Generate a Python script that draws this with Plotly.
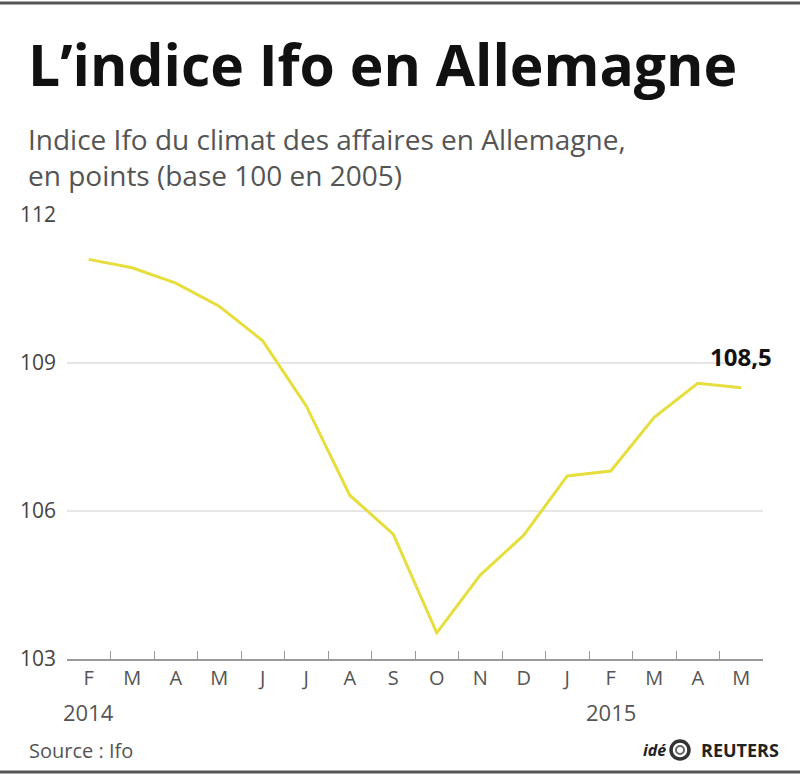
import plotly.graph_objects as go

months = ["2014-02", "2014-03", "2014-04", "2014-05", "2014-06", "2014-07", "2014-08",
          "2014-09", "2014-10", "2014-11", "2014-12", "2015-01", "2015-02", "2015-03",
          "2015-04", "2015-05"]
month_labels = ["F", "M", "A", "M", "J", "J", "A", "S", "O", "N", "D", "J", "F", "M", "A", "M"]
values = [111.1, 110.93, 110.62, 110.15, 109.45, 108.13, 106.32, 105.53, 103.53,
          104.7, 105.51, 106.71, 106.81, 107.9, 108.59, 108.5]
year_labels = {"2014-02": "2014", "2015-02": "2015"}
y_ticks = [103, 106, 109, 112]

W, H = 800, 776
ML, MR, MT, MB = 67, 37, 215, 117
PH = H - MT - MB
PW = W - ML - MR

def py(pix):  # pixel y -> paper y
    return (H - MB - pix) / PH

def px(pix):  # pixel x -> paper x
    return (pix - ML) / PW

FONT = "Open Sans"

fig = go.Figure()
fig.add_trace(go.Scatter(
    x=months, y=values, mode="lines",
    line=dict(color="#e6de3e", width=3),
    hoverinfo="skip", showlegend=False,
))

fig.update_layout(
    width=W, height=H,
    margin=dict(l=ML, r=MR, t=MT, b=MB),
    paper_bgcolor="white", plot_bgcolor="white",
    font=dict(family=FONT, color="#444"),
    xaxis=dict(
        type="category", tickmode="array", tickvals=months, ticktext=month_labels,
        tickson="boundaries", ticks="inside", ticklen=8, tickcolor="#999", tickwidth=1,
        showline=True, linecolor="#999", linewidth=1.5,
        showgrid=False, zeroline=False,
        tickfont=dict(size=20, color="#555", family=FONT),
        range=[-0.5, 15.5],
    ),
    yaxis=dict(
        range=[103, 112], tickvals=y_ticks, ticktext=[str(v) for v in y_ticks],
        showgrid=True, gridcolor="#e6e6e6", gridwidth=1.5,
        zeroline=False, showline=False, ticks="",
        tickfont=dict(size=21, color="#444", family=FONT),
        ticklabelstandoff=10,
    ),
)

ann = []
ann.append(dict(x=px(26), y=py(64), xref="paper", yref="paper", xanchor="left", yanchor="middle",
                text="<b>L’indice Ifo en Allemagne</b>", showarrow=False,
                font=dict(size=57, color="#111", family=FONT)))
ann.append(dict(x=px(26), y=py(157), xref="paper", yref="paper", xanchor="left", yanchor="middle",
                text="Indice Ifo du climat des affaires en Allemagne,<br>en points (base 100 en 2005)",
                align="left", showarrow=False,
                font=dict(size=28, color="#555", family=FONT)))
for m, yl in year_labels.items():
    ann.append(dict(x=m, y=py(712), xref="x", yref="paper", xanchor="center", yanchor="middle",
                    text=yl, showarrow=False, font=dict(size=22, color="#555", family=FONT)))
ann.append(dict(x=months[-1], y=values[-1], xref="x", yref="y", xanchor="center", yanchor="bottom",
                yshift=13, text="<b>108,5</b>", showarrow=False,
                font=dict(size=24, color="#111", family=FONT)))
ann.append(dict(x=px(27), y=py(750), xref="paper", yref="paper", xanchor="left", yanchor="middle",
                text="Source : Ifo", showarrow=False, font=dict(size=20, color="#555", family=FONT)))
ann.append(dict(x=px(668), y=py(750), xref="paper", yref="paper", xanchor="right", yanchor="middle",
                text="<b><i>idé</i></b>", showarrow=False, font=dict(size=16, color="#222", family=FONT)))
ann.append(dict(x=px(781), y=py(750), xref="paper", yref="paper", xanchor="right", yanchor="middle",
                text="<b>REUTERS</b>", showarrow=False, font=dict(size=18, color="#222", family=FONT)))
fig.update_layout(annotations=ann)

shapes = []
# logo circle
shapes.append(dict(type="circle", xref="paper", yref="paper",
                   x0=px(671), x1=px(689), y0=py(759), y1=py(741),
                   line=dict(color="#333", width=3.5)))
shapes.append(dict(type="circle", xref="paper", yref="paper",
                   x0=px(676), x1=px(684), y0=py(754), y1=py(746),
                   line=dict(color="#666", width=2)))
# frame lines top and bottom
for yy in (3, 772):
    shapes.append(dict(type="line", xref="paper", yref="paper",
                       x0=px(0), x1=px(800), y0=py(yy), y1=py(yy),
                       line=dict(color="#555", width=3)))
fig.update_layout(shapes=shapes)

fig.write_html("out.html")
